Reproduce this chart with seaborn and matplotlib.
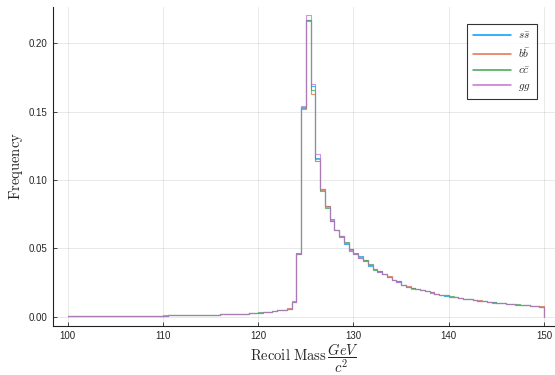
import numpy as np
import pandas as pd
import matplotlib
matplotlib.use("Agg")
import matplotlib.pyplot as plt
from matplotlib.lines import Line2D
import seaborn as sns

# bin edges, 0.5 GeV wide from 100 to 150
edges = np.arange(100, 150.01, 0.5)
centers = edges[:-1] + 0.25

# frequencies, one list per process
ss = [0.0002, 0.0002, 0.0002, 0.0003, 0.0003, 0.0003, 0.0003, 0.0004, 0.0004, 0.0004,
      0.0004, 0.0005, 0.0005, 0.0005, 0.0005, 0.0006, 0.0006, 0.0006, 0.0007, 0.0007,
      0.0007, 0.0008, 0.0008, 0.0009, 0.0009, 0.0010, 0.0010, 0.0011, 0.0011, 0.0012,
      0.0013, 0.0014, 0.0015, 0.0016, 0.0017, 0.0018, 0.0020, 0.0022, 0.0024, 0.0026,
      0.0029, 0.0032, 0.0036, 0.0040, 0.0045, 0.0050, 0.0058, 0.0110, 0.0462, 0.1525,
      0.2170, 0.1690, 0.1160, 0.0935, 0.0810, 0.0712, 0.0636, 0.0585, 0.0532, 0.0482,
      0.0462, 0.0440, 0.0406, 0.0372, 0.0346, 0.0326, 0.0312, 0.0290, 0.0268, 0.0255,
      0.0230, 0.0219, 0.0206, 0.0200, 0.0196, 0.0186, 0.0176, 0.0167, 0.0158, 0.0153,
      0.0146, 0.0142, 0.0135, 0.0129, 0.0127, 0.0121, 0.0116, 0.0113, 0.0106, 0.0103,
      0.0099, 0.0097, 0.0094, 0.0090, 0.0088, 0.0086, 0.0082, 0.0079, 0.0077, 0.0073]

bb = [0.0002, 0.0002, 0.0002, 0.0002, 0.0003, 0.0003, 0.0003, 0.0004, 0.0004, 0.0004,
      0.0005, 0.0005, 0.0005, 0.0005, 0.0006, 0.0006, 0.0006, 0.0006, 0.0007, 0.0007,
      0.0008, 0.0008, 0.0008, 0.0009, 0.0009, 0.0010, 0.0011, 0.0011, 0.0012, 0.0012,
      0.0013, 0.0014, 0.0015, 0.0016, 0.0017, 0.0019, 0.0020, 0.0022, 0.0024, 0.0027,
      0.0029, 0.0032, 0.0035, 0.0040, 0.0046, 0.0051, 0.0060, 0.0112, 0.0458, 0.1520,
      0.2165, 0.1630, 0.1150, 0.0925, 0.0812, 0.0702, 0.0630, 0.0590, 0.0540, 0.0492,
      0.0456, 0.0436, 0.0412, 0.0380, 0.0350, 0.0330, 0.0310, 0.0294, 0.0270, 0.0257,
      0.0233, 0.0220, 0.0208, 0.0198, 0.0194, 0.0189, 0.0178, 0.0165, 0.0160, 0.0155,
      0.0145, 0.0141, 0.0134, 0.0131, 0.0126, 0.0120, 0.0118, 0.0111, 0.0108, 0.0101,
      0.0100, 0.0098, 0.0093, 0.0091, 0.0087, 0.0085, 0.0083, 0.0078, 0.0078, 0.0074]

cc = [0.0002, 0.0002, 0.0003, 0.0003, 0.0003, 0.0003, 0.0004, 0.0004, 0.0004, 0.0004,
      0.0004, 0.0005, 0.0005, 0.0006, 0.0005, 0.0006, 0.0006, 0.0007, 0.0007, 0.0007,
      0.0007, 0.0008, 0.0009, 0.0009, 0.0010, 0.0010, 0.0010, 0.0011, 0.0012, 0.0012,
      0.0013, 0.0014, 0.0015, 0.0016, 0.0018, 0.0018, 0.0020, 0.0022, 0.0025, 0.0026,
      0.0030, 0.0032, 0.0036, 0.0041, 0.0045, 0.0050, 0.0057, 0.0108, 0.0460, 0.1530,
      0.2172, 0.1660, 0.1140, 0.0920, 0.0798, 0.0700, 0.0634, 0.0588, 0.0545, 0.0495,
      0.0456, 0.0430, 0.0414, 0.0382, 0.0344, 0.0330, 0.0314, 0.0291, 0.0266, 0.0257,
      0.0234, 0.0218, 0.0209, 0.0201, 0.0193, 0.0188, 0.0175, 0.0167, 0.0160, 0.0154,
      0.0147, 0.0143, 0.0133, 0.0130, 0.0128, 0.0119, 0.0117, 0.0112, 0.0107, 0.0103,
      0.0101, 0.0098, 0.0092, 0.0090, 0.0089, 0.0085, 0.0083, 0.0078, 0.0079, 0.0072]

gg = [0.0002, 0.0002, 0.0002, 0.0003, 0.0003, 0.0003, 0.0003, 0.0003, 0.0004, 0.0004,
      0.0004, 0.0005, 0.0005, 0.0005, 0.0005, 0.0006, 0.0006, 0.0006, 0.0007, 0.0007,
      0.0007, 0.0008, 0.0008, 0.0009, 0.0009, 0.0010, 0.0010, 0.0011, 0.0011, 0.0012,
      0.0013, 0.0014, 0.0015, 0.0016, 0.0017, 0.0018, 0.0020, 0.0022, 0.0024, 0.0026,
      0.0029, 0.0032, 0.0036, 0.0040, 0.0045, 0.0050, 0.0058, 0.0110, 0.0460, 0.1540,
      0.2205, 0.1700, 0.1190, 0.0932, 0.0805, 0.0708, 0.0636, 0.0592, 0.0538, 0.0488,
      0.0458, 0.0432, 0.0410, 0.0376, 0.0347, 0.0328, 0.0313, 0.0292, 0.0268, 0.0254,
      0.0231, 0.0219, 0.0205, 0.0201, 0.0196, 0.0187, 0.0176, 0.0166, 0.0158, 0.0154,
      0.0146, 0.0142, 0.0135, 0.0130, 0.0127, 0.0120, 0.0117, 0.0112, 0.0107, 0.0102,
      0.0100, 0.0098, 0.0093, 0.0090, 0.0088, 0.0085, 0.0083, 0.0078, 0.0078, 0.0073]

labels = [r"$s\bar{s}$", r"$b\bar{b}$", r"$c\bar{c}$", r"$gg$"]
colors = ["#009AFA", "#E26F46", "#3DA44E", "#C371D2"]

sns.set_style("white")
plt.rcParams["mathtext.fontset"] = "cm"
plt.rcParams["font.family"] = ["Liberation Sans", "DejaVu Sans"]

fig = plt.figure(figsize=(5.55, 3.75), dpi=100)
ax = fig.add_axes([0.096, 0.1315, 0.904, 0.85])

lw = 0.8
handles = []
for vals, lab, col in zip([ss, bb, cc, gg], labels, colors):
    df = pd.DataFrame({"mass": centers, "freq": vals})
    sns.histplot(data=df, x="mass", weights="freq", bins=list(edges), element="step",
                 fill=False, color=col, linewidth=lw, alpha=0.75, ax=ax)
    # closing drop at the last edge
    ax.vlines(edges[-1], 0, vals[-1], color=col, linewidth=lw, alpha=0.75)
    handles.append(Line2D([], [], color=col, linewidth=1.1, label=lab))

ax.set_xlim(98.5, 151.15)
ax.set_ylim(-0.0067, 0.2266)
ax.set_xticks([100, 110, 120, 130, 140, 150])
ax.set_yticks([0.0, 0.05, 0.10, 0.15, 0.20])
ax.set_yticklabels(["0.00", "0.05", "0.10", "0.15", "0.20"])
ax.grid(True, color="black", alpha=0.1, linewidth=0.6)
ax.tick_params(direction="in", length=3, width=0.6, labelsize=7, pad=4,
               left=True, bottom=True)
for s in ["top", "right"]:
    ax.spines[s].set_visible(False)
for s in ["left", "bottom"]:
    ax.spines[s].set_linewidth(0.8)
    ax.spines[s].set_color("#222222")

ax.set_xlabel(r"$\mathrm{Recoil\ Mass}\,\dfrac{GeV}{c^2}$", fontsize=10.5, labelpad=0)
ax.set_ylabel(r"$\mathrm{Frequency}$", fontsize=10.5, labelpad=3)

leg = ax.legend(handles=handles, loc="upper right", bbox_to_anchor=(0.975, 0.965),
                fontsize=8, frameon=True, fancybox=False, handlelength=3.4,
                borderpad=0.6, labelspacing=0.45, handletextpad=0.6,
                edgecolor="black")
leg.get_frame().set_linewidth(0.8)

fig.savefig("out.png", dpi=100)
